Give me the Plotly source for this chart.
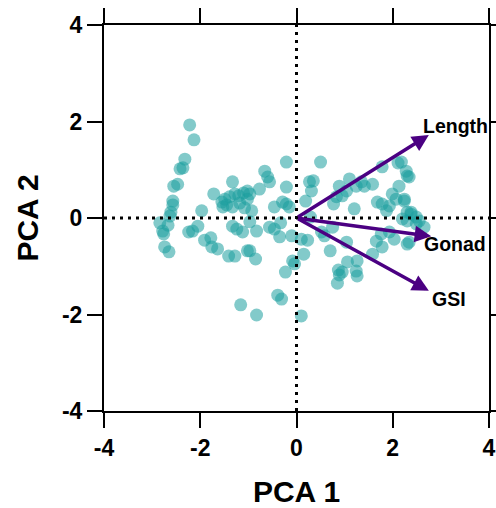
import plotly.graph_objects as go

# PCA scores (PC1, PC2) for each sample
pc1 = [-2.22, -2.13, -2.32, -2.42, -2.36, -2.55, -2.47, -2.57, -2.57, -2.61,
       -2.63, -2.84, -2.78, -2.76, -2.74, -2.65, -2.24, -2.16, -2.05, -1.91,
       -1.78, -1.76, -1.64, -1.41, -1.28, -1.33, -1.24, -1.12, -1.02, -1.16,
       -0.83, -1.97, -1.72, -1.33, -1.55, -1.49, -1.39, -1.28, -1.20, -1.10,
       -1.02, -1.53, -1.45, -1.33, -1.18, -1.08, -2.67,
       -0.97, -0.83, -0.56, -0.46, -0.33, -0.35, -0.10, 0.10, 0.23, 0.15,
       -0.97, -0.85, -0.08, -0.04, -0.23, -0.39, -0.31, 0.10, 0.70, 0.87,
       0.89, 0.85, 0.58, 0.52, 0.75, -0.21, 0.50, -0.66, -0.60, -0.56,
       -0.77, -0.97, -1.02, -0.21, 0.27, 0.35, 0.31, 0.19, -0.46, -0.29,
       -0.21, -0.15, 0.89, 0.83, -0.93, 0.29,
       2.11, 2.28, 2.30, 1.78, 2.13, 1.58, 1.35, 1.24, 1.10, 1.04,
       0.95, 1.99, 2.07, 2.24, 1.68, 1.78, 1.93, 1.87, 2.30, 2.38,
       2.49, 2.30, 2.49, 2.65, 1.93, 2.03, 1.66, 1.78, 2.30, 1.76,
       1.58, 1.04, 1.06, 1.26, 1.24, 1.26, 0.95, 1.41, 2.18, 2.34,
       2.24, 2.38, 2.55, 2.34, 2.20, 0.77, 1.20]
pc2 = [1.93, 1.62, 1.22, 1.02, 1.04, 0.66, 0.70, 0.35, 0.27, 0.12,
       0.04, -0.10, -0.27, -0.33, -0.60, -0.70, -0.29, -0.27, -0.17, -0.46,
       -0.41, -0.60, -0.64, -0.79, -0.79, -0.17, -0.23, -0.29, -0.68, -1.80,
       -2.01, 0.15, 0.50, 0.75, 0.33, 0.39, 0.44, 0.50, 0.46, 0.52,
       0.56, 0.23, 0.27, 0.23, 0.31, 0.21, -0.15,
       -0.08, -0.27, -0.19, -0.23, -0.10, -0.39, -0.37, -0.44, -0.46, -0.75,
       -0.68, -0.85, -0.89, -0.95, -1.12, -1.60, -1.68, -2.03, -0.68, -1.08,
       -1.18, -1.35, -0.37, -0.29, -0.19, 1.16, 1.16, 0.97, 0.85, 0.75,
       0.60, 0.50, 0.39, 0.64, 0.75, 0.77, 0.56, 0.35, 0.23, 0.33,
       0.29, 0.23, 0.66, 0.44, 0.15, 0.02,
       1.14, 0.97, 0.87, 1.06, 0.66, 0.70, 0.75, 0.66, 0.81, 0.56,
       0.46, 0.50, 0.39, 0.35, 0.33, 0.29, 0.25, 0.15, 0.12, 0.08,
       0.02, -0.06, -0.12, -0.19, -0.29, -0.44, -0.48, -0.60, -0.54, -0.33,
       -0.75, -0.50, -0.91, -0.89, -1.10, -1.20, -1.12, 0.66, 1.16, 0.85,
       0.39, 0.12, -0.06, -0.50, -0.02, 0.29, 0.19]

# Variable loadings (arrow tips) and their label positions
variables = ["Length", "Gonad", "GSI"]
load_x = [2.75, 2.80, 2.75]
load_y = [1.72, -0.38, -1.51]
label_x = [3.30, 3.30, 3.16]
label_y = [1.91, -0.54, -1.68]

tick_vals = [-4, -2, 0, 2, 4]

FONT = "Liberation Sans, Arial, sans-serif"
TEAL = "#1C9E9E"
PURPLE = "#4B0082"

fig = go.Figure()
fig.add_trace(go.Scatter(
    x=pc1, y=pc2, mode="markers",
    marker=dict(size=13, color=TEAL, opacity=0.55, line=dict(width=0)),
    hoverinfo="skip", showlegend=False,
))

# dotted reference lines through the origin
for shp in (dict(x0=0, x1=0, y0=-4, y1=4), dict(x0=-4, x1=4, y0=0, y1=0)):
    fig.add_shape(type="line", xref="x", yref="y", layer="above",
                  line=dict(color="black", width=3, dash="3px,5px"), **shp)

# loading arrows
for vx, vy in zip(load_x, load_y):
    fig.add_annotation(x=vx, y=vy, ax=0, ay=0, xref="x", yref="y",
                       axref="x", ayref="y", text="", showarrow=True,
                       arrowhead=2, arrowsize=0.95, arrowwidth=3.5,
                       arrowcolor=PURPLE, standoff=0, startstandoff=0)

for name, lx, ly in zip(variables, label_x, label_y):
    fig.add_annotation(x=lx, y=ly, xref="x", yref="y", text=name,
                       showarrow=False,
                       font=dict(family=FONT, size=19.5, color="black", weight="bold"))

axis_common = dict(
    range=[-4, 4], tickvals=tick_vals, ticktext=[str(v) for v in tick_vals],
    showgrid=False, zeroline=False, showline=True, linecolor="black",
    linewidth=2, mirror="ticks", ticks="outside", ticklen=15, tickwidth=2,
    tickcolor="black", automargin=False,
    tickfont=dict(family=FONT, size=23, color="black", weight="bold"),
)

fig.update_layout(
    width=496, height=508,
    margin=dict(l=104, r=7, t=25, b=97),
    paper_bgcolor="white", plot_bgcolor="white",
    xaxis=dict(**axis_common,
               title=dict(text="PCA 1", standoff=22,
                          font=dict(family=FONT, size=30, color="black", weight="bold"))),
    yaxis=dict(**axis_common,
               title=dict(text="PCA 2", standoff=14,
                          font=dict(family=FONT, size=30, color="black", weight="bold"))),
)

fig.write_html("out.html")
